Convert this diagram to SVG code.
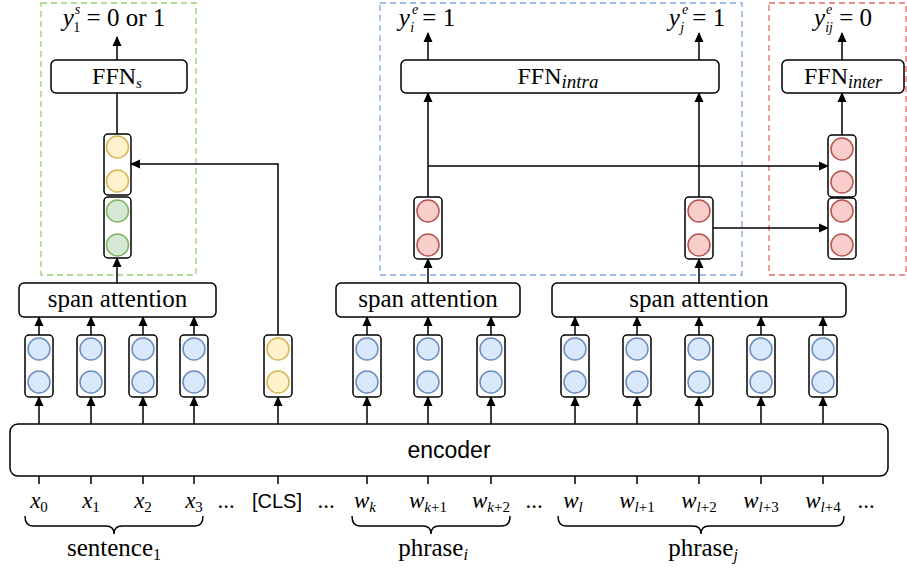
<svg xmlns="http://www.w3.org/2000/svg" width="907" height="570" viewBox="0 0 907 570">
<style>
.box{fill:#fff;stroke:#000;stroke-width:1.5}
.stk{fill:#fff;stroke:#000;stroke-width:1.5}
.cb{fill:#dae8fc;stroke:#6c8ebf;stroke-width:1.5}
.cy{fill:#fff2cc;stroke:#d6b656;stroke-width:1.5}
.cg{fill:#d5e8d4;stroke:#82b366;stroke-width:1.5}
.cr{fill:#f8cecc;stroke:#b85450;stroke-width:1.5}
.ln{fill:none;stroke:#000;stroke-width:1.5}
.ar{fill:none;stroke:#000;stroke-width:1.5;marker-end:url(#ah)}
.dash{fill:none;stroke-width:1.3;stroke-dasharray:6 4}
text{fill:#000}
.it{font-style:italic}
</style>
<defs>
<marker id="ah" markerWidth="10" markerHeight="10" refX="9" refY="5" orient="auto" markerUnits="userSpaceOnUse"><path d="M0,0.5 L10,5 L0,9.5 z" fill="#000"/></marker>
</defs>

<rect x="41" y="3" width="155" height="272" class="dash" stroke="#97d077"/>
<rect x="380" y="3" width="362" height="272" class="dash" stroke="#7ea6e0"/>
<rect x="769" y="3" width="137" height="272" class="dash" stroke="#ea6b66"/>

<g id="connectors">
<line x1="39" y1="424" x2="39" y2="397" class="ar"/>
<line x1="91" y1="424" x2="91" y2="397" class="ar"/>
<line x1="143" y1="424" x2="143" y2="397" class="ar"/>
<line x1="194" y1="424" x2="194" y2="397" class="ar"/>
<line x1="278" y1="424" x2="278" y2="397" class="ar"/>
<line x1="367" y1="424" x2="367" y2="397" class="ar"/>
<line x1="428" y1="424" x2="428" y2="397" class="ar"/>
<line x1="491" y1="424" x2="491" y2="397" class="ar"/>
<line x1="575" y1="424" x2="575" y2="397" class="ar"/>
<line x1="637" y1="424" x2="637" y2="397" class="ar"/>
<line x1="699" y1="424" x2="699" y2="397" class="ar"/>
<line x1="761" y1="424" x2="761" y2="397" class="ar"/>
<line x1="823" y1="424" x2="823" y2="397" class="ar"/>
<line x1="39" y1="335" x2="39" y2="317" class="ar"/>
<line x1="91" y1="335" x2="91" y2="317" class="ar"/>
<line x1="143" y1="335" x2="143" y2="317" class="ar"/>
<line x1="194" y1="335" x2="194" y2="317" class="ar"/>
<line x1="367" y1="335" x2="367" y2="317" class="ar"/>
<line x1="428" y1="335" x2="428" y2="317" class="ar"/>
<line x1="491" y1="335" x2="491" y2="317" class="ar"/>
<line x1="575" y1="335" x2="575" y2="317" class="ar"/>
<line x1="637" y1="335" x2="637" y2="317" class="ar"/>
<line x1="699" y1="335" x2="699" y2="317" class="ar"/>
<line x1="761" y1="335" x2="761" y2="317" class="ar"/>
<line x1="823" y1="335" x2="823" y2="317" class="ar"/>
<polyline points="278,335 278,164 131,164" class="ar"/>
<line x1="117" y1="283" x2="117" y2="258" class="ar"/>
<line x1="428" y1="283" x2="428" y2="259" class="ar"/>
<line x1="699" y1="283" x2="699" y2="259" class="ar"/>
<line x1="117" y1="134" x2="117" y2="93" class="ln"/>
<line x1="428" y1="197" x2="428" y2="93" class="ar"/>
<line x1="699" y1="197" x2="699" y2="93" class="ar"/>
<line x1="842" y1="135" x2="842" y2="93" class="ar"/>
<polyline points="428,166 828,166" class="ar"/>
<polyline points="713,228 828,228" class="ar"/>
<line x1="117" y1="60" x2="117" y2="37" class="ar"/>
<line x1="428" y1="60" x2="428" y2="33" class="ar"/>
<line x1="699" y1="60" x2="699" y2="33" class="ar"/>
<line x1="842" y1="60" x2="842" y2="33" class="ar"/>
<path class="ln" d="M39,476V484M91,476V484M143,476V484M194,476V484M278,476V484M367,476V484M428,476V484M491,476V484M575,476V484M637,476V484M699,476V484M761,476V484M823,476V484"/>
</g>

<g id="encoder">
<rect x="10" y="424" width="878" height="52" rx="8" class="box"/>
<text x="449" y="458" font-family="'Liberation Sans', Arial, sans-serif" font-size="23" text-anchor="middle">encoder</text>
</g>

<g id="stack-x0"><rect x="25" y="335" width="28" height="62" rx="4" class="stk"/><circle cx="39" cy="349" r="11" class="cb"/><circle cx="39" cy="382" r="11" class="cb"/></g>
<g id="stack-x1"><rect x="77" y="335" width="28" height="62" rx="4" class="stk"/><circle cx="91" cy="349" r="11" class="cb"/><circle cx="91" cy="382" r="11" class="cb"/></g>
<g id="stack-x2"><rect x="129" y="335" width="28" height="62" rx="4" class="stk"/><circle cx="143" cy="349" r="11" class="cb"/><circle cx="143" cy="382" r="11" class="cb"/></g>
<g id="stack-x3"><rect x="180" y="335" width="28" height="62" rx="4" class="stk"/><circle cx="194" cy="349" r="11" class="cb"/><circle cx="194" cy="382" r="11" class="cb"/></g>
<g id="stack-cls"><rect x="264" y="335" width="28" height="62" rx="4" class="stk"/><circle cx="278" cy="349" r="11" class="cy"/><circle cx="278" cy="382" r="11" class="cy"/></g>
<g id="stack-wk"><rect x="353" y="335" width="28" height="62" rx="4" class="stk"/><circle cx="367" cy="349" r="11" class="cb"/><circle cx="367" cy="382" r="11" class="cb"/></g>
<g id="stack-wk1"><rect x="414" y="335" width="28" height="62" rx="4" class="stk"/><circle cx="428" cy="349" r="11" class="cb"/><circle cx="428" cy="382" r="11" class="cb"/></g>
<g id="stack-wk2"><rect x="477" y="335" width="28" height="62" rx="4" class="stk"/><circle cx="491" cy="349" r="11" class="cb"/><circle cx="491" cy="382" r="11" class="cb"/></g>
<g id="stack-wl"><rect x="561" y="335" width="28" height="62" rx="4" class="stk"/><circle cx="575" cy="349" r="11" class="cb"/><circle cx="575" cy="382" r="11" class="cb"/></g>
<g id="stack-wl1"><rect x="623" y="335" width="28" height="62" rx="4" class="stk"/><circle cx="637" cy="349" r="11" class="cb"/><circle cx="637" cy="382" r="11" class="cb"/></g>
<g id="stack-wl2"><rect x="685" y="335" width="28" height="62" rx="4" class="stk"/><circle cx="699" cy="349" r="11" class="cb"/><circle cx="699" cy="382" r="11" class="cb"/></g>
<g id="stack-wl3"><rect x="747" y="335" width="28" height="62" rx="4" class="stk"/><circle cx="761" cy="349" r="11" class="cb"/><circle cx="761" cy="382" r="11" class="cb"/></g>
<g id="stack-wl4"><rect x="809" y="335" width="28" height="62" rx="4" class="stk"/><circle cx="823" cy="349" r="11" class="cb"/><circle cx="823" cy="382" r="11" class="cb"/></g>

<g id="stack-sent-top"><rect x="104" y="134" width="27" height="61" rx="4" class="stk"/><circle cx="117.5" cy="147" r="11" class="cy"/><circle cx="117.5" cy="181" r="11" class="cy"/></g>
<g id="stack-sent-bot"><rect x="104" y="197" width="27" height="61" rx="4" class="stk"/><circle cx="117.5" cy="211" r="11" class="cg"/><circle cx="117.5" cy="245" r="11" class="cg"/></g>
<g id="stack-pi"><rect x="414" y="197" width="28" height="62" rx="4" class="stk"/><circle cx="428" cy="211" r="11" class="cr"/><circle cx="428" cy="245" r="11" class="cr"/></g>
<g id="stack-pj"><rect x="685" y="197" width="28" height="62" rx="4" class="stk"/><circle cx="699" cy="211" r="11" class="cr"/><circle cx="699" cy="245" r="11" class="cr"/></g>
<g id="stack-ij-top"><rect x="828" y="135" width="28" height="62" rx="4" class="stk"/><circle cx="842" cy="149" r="11" class="cr"/><circle cx="842" cy="182" r="11" class="cr"/></g>
<g id="stack-ij-bot"><rect x="828" y="198" width="28" height="61" rx="4" class="stk"/><circle cx="842" cy="211" r="11" class="cr"/><circle cx="842" cy="245" r="11" class="cr"/></g>

<g font-family="'Liberation Serif', 'Times New Roman', serif">
<g id="span-att-1"><rect x="19" y="283" width="197" height="34" rx="5" class="box"/><text x="117.5" y="307" font-size="25" text-anchor="middle">span attention</text></g>
<g id="span-att-2"><rect x="336" y="283" width="184" height="34" rx="5" class="box"/><text x="428" y="307" font-size="25" text-anchor="middle">span attention</text></g>
<g id="span-att-3"><rect x="552" y="283" width="294" height="34" rx="5" class="box"/><text x="699" y="307" font-size="25" text-anchor="middle">span attention</text></g>

<g id="ffn-s"><rect x="51" y="60" width="136" height="33" rx="5" class="box"/><text x="117" y="84" font-size="24" text-anchor="middle">FFN<tspan class="it" font-size="15" dy="4">s</tspan></text></g>
<g id="ffn-intra"><rect x="401" y="60" width="318" height="33" rx="5" class="box"/><text x="558" y="84" font-size="24" text-anchor="middle">FFN<tspan class="it" font-size="19" dy="4">intra</tspan></text></g>
<g id="ffn-inter"><rect x="782" y="60" width="122" height="33" rx="5" class="box"/><text x="843" y="84" font-size="24" text-anchor="middle">FFN<tspan class="it" font-size="18" dy="4">inter</tspan></text></g>

<g id="label-ys"><text x="114" y="26" font-size="25" text-anchor="middle"><tspan class="it">y</tspan><tspan class="it" font-size="14" dx="1" dy="-12">s</tspan><tspan font-size="14" dx="-7" dy="18">1</tspan><tspan dy="-6"> = 0 or 1</tspan></text></g>
<g id="label-yi"><text x="427" y="26" font-size="25" text-anchor="middle"><tspan class="it">y</tspan><tspan class="it" font-size="14" dx="2" dy="-12">e</tspan><tspan class="it" font-size="14" dx="-8" dy="18">i</tspan><tspan dx="2" dy="-6"> = 1</tspan></text></g>
<g id="label-yj"><text x="697" y="26" font-size="25" text-anchor="middle"><tspan class="it">y</tspan><tspan class="it" font-size="14" dx="2" dy="-12">e</tspan><tspan class="it" font-size="14" dx="-8" dy="18">j</tspan><tspan dx="2" dy="-6"> = 1</tspan></text></g>
<g id="label-yij"><text x="843" y="26" font-size="25" text-anchor="middle"><tspan class="it">y</tspan><tspan class="it" font-size="14" dx="1" dy="-12">e</tspan><tspan class="it" font-size="14" dx="-7" dy="18">ij</tspan><tspan dy="-6"> = 0</tspan></text></g>

<g id="tokens" font-size="23">
<text x="39" y="508" text-anchor="middle"><tspan class="it">x</tspan><tspan font-size="15" dy="4">0</tspan></text>
<text x="91" y="508" text-anchor="middle"><tspan class="it">x</tspan><tspan font-size="15" dy="4">1</tspan></text>
<text x="143" y="508" text-anchor="middle"><tspan class="it">x</tspan><tspan font-size="15" dy="4">2</tspan></text>
<text x="194" y="508" text-anchor="middle"><tspan class="it">x</tspan><tspan font-size="15" dy="4">3</tspan></text>
<text x="226" y="508" text-anchor="middle">...</text>
<text x="277" y="508" font-family="'Liberation Sans', Arial, sans-serif" font-size="20" text-anchor="middle">[CLS]</text>
<text x="326" y="508" text-anchor="middle">...</text>
<text x="365" y="508" text-anchor="middle"><tspan class="it">w</tspan><tspan class="it" font-size="15" dy="4">k</tspan></text>
<text x="428" y="508" text-anchor="middle"><tspan class="it">w</tspan><tspan font-size="15" dy="4"><tspan class="it">k</tspan>+1</tspan></text>
<text x="491" y="508" text-anchor="middle"><tspan class="it">w</tspan><tspan font-size="15" dy="4"><tspan class="it">k</tspan>+2</tspan></text>
<text x="534" y="508" text-anchor="middle">...</text>
<text x="573" y="508" text-anchor="middle"><tspan class="it">w</tspan><tspan class="it" font-size="15" dy="4">l</tspan></text>
<text x="637" y="508" text-anchor="middle"><tspan class="it">w</tspan><tspan font-size="15" dy="4"><tspan class="it">l</tspan>+1</tspan></text>
<text x="699" y="508" text-anchor="middle"><tspan class="it">w</tspan><tspan font-size="15" dy="4"><tspan class="it">l</tspan>+2</tspan></text>
<text x="761" y="508" text-anchor="middle"><tspan class="it">w</tspan><tspan font-size="15" dy="4"><tspan class="it">l</tspan>+3</tspan></text>
<text x="823" y="508" text-anchor="middle"><tspan class="it">w</tspan><tspan font-size="15" dy="4"><tspan class="it">l</tspan>+4</tspan></text>
<text x="866" y="508" text-anchor="middle">...</text>
</g>

<g id="brace-labels" font-size="25">
<text x="114" y="556" text-anchor="middle">sentence<tspan font-size="16" dy="4">1</tspan></text>
<text x="433" y="556" text-anchor="middle">phrase<tspan class="it" font-size="16" dy="4">i</tspan></text>
<text x="703" y="556" text-anchor="middle">phrase<tspan class="it" font-size="16" dy="4">j</tspan></text>
</g>
</g>

<g id="braces" class="ln">
<path d="M25,516 Q25,526 33,526 L106,526 Q114,526 114,534 Q114,526 122,526 L195,526 Q203,526 203,516"/>
<path d="M352,516 Q352,526 360,526 L423,526 Q431,526 431,534 Q431,526 439,526 L502,526 Q510,526 510,516"/>
<path d="M558,516 Q558,526 566,526 L693,526 Q701,526 701,534 Q701,526 709,526 L836,526 Q844,526 844,516"/>
</g>
</svg>
